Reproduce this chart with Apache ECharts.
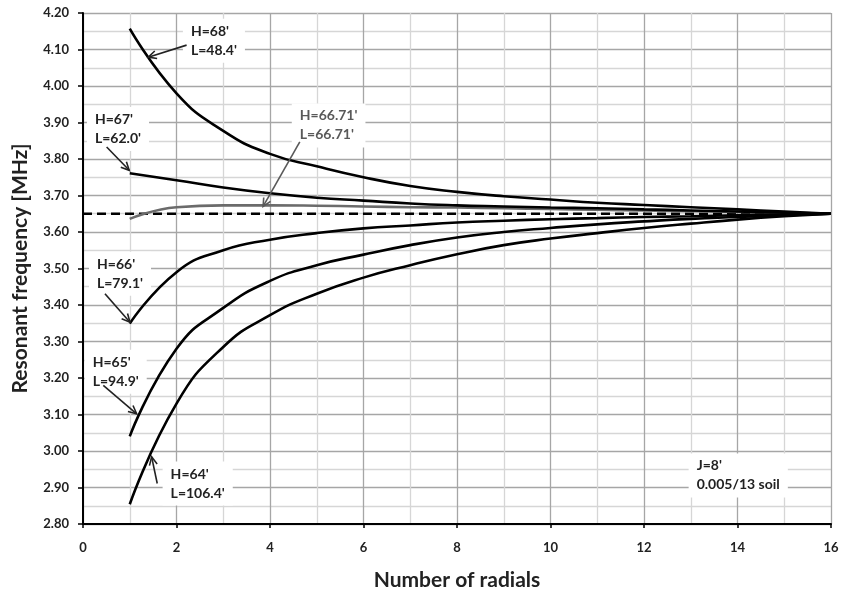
<!DOCTYPE html>
<html><head><meta charset="utf-8">
<script src="https://cdn.jsdelivr.net/npm/echarts@6/dist/echarts.min.js"></script>
<style>html,body{margin:0;padding:0;background:#fff}#c{width:846px;height:590px}</style>
</head><body><div id="c"></div>
<script>
const radials = [1,2,3,4,5,6,7,8,9,10,11,12,13,14,15,16];
const h68 = [4.157,3.980,3.877,3.814,3.780,3.750,3.726,3.710,3.698,3.689,3.680,3.674,3.668,3.662,3.656,3.650];
const h67 = [3.761,3.742,3.722,3.706,3.694,3.686,3.678,3.673,3.670,3.667,3.665,3.662,3.659,3.656,3.653,3.650];
const h6671 = [3.636,3.668,3.673,3.673,3.672,3.670,3.668,3.667,3.665,3.663,3.661,3.659,3.657,3.655,3.652,3.650];
const h66 = [3.349,3.490,3.550,3.579,3.597,3.610,3.618,3.626,3.631,3.635,3.638,3.641,3.643,3.646,3.648,3.650];
const h65 = [3.040,3.280,3.392,3.466,3.509,3.538,3.564,3.585,3.600,3.611,3.621,3.629,3.636,3.641,3.646,3.650];
const h64 = [2.854,3.130,3.285,3.372,3.431,3.475,3.509,3.539,3.564,3.582,3.597,3.611,3.623,3.634,3.643,3.650];
const targetX = [0,16];
const targetY = [3.65,3.65];
// annotations: text, text top-left (data), arrow tail (data), arrow tip (data), colour
const annText = ["H=68'\nL=48.4'","H=67'\nL=62.0'","H=66.71'\nL=66.71'","H=66'\nL=79.1'","H=65'\nL=94.9'","H=64'\nL=106.4'","J=8'\n0.005/13 soil"];
const annPos = [[2.308,4.176],[0.256,3.934],[4.637,3.944],[0.299,3.538],[0.207,3.269],[1.874,2.963],[13.126,2.985]];
const annTail = [[2.216,4.112],[0.506,3.833],[4.637,3.847],[0.47,3.431],[0.434,3.18],[1.588,2.911],null];
const annTip = [[1.395,4.079],[0.989,3.769],[3.853,3.67],[1.004,3.353],[1.147,3.102],[1.468,2.984],null];
const annColor = ['#222','#222','#595959','#222','#222','#222','#222'];

const FONT = 'Lato, "Open Sans", sans-serif';
const pair = (xs, ys) => xs.map((x,i)=>[x, ys[i]]);
const chart = echarts.init(document.getElementById('c'));
const lineSeries = (data, color) => ({type:'line', data: pair(radials, data), smooth:0.5,
  showSymbol:false, symbol:'none', lineStyle:{color:color, width:2.6}, z:3});
chart.setOption({
  animation:false,
  grid:{left:83, right:15, top:13, bottom:66, containLabel:false, outerBoundsMode:'none'},
  xAxis:{type:'value', min:0, max:16, interval:2,
    name:'Number of radials', nameLocation:'middle', nameGap:46,
    nameTextStyle:{fontFamily:FONT, fontWeight:'bold', fontSize:21, color:'#222'},
    axisLine:{lineStyle:{color:'#000', width:2}},
    axisTick:{show:true, length:4, lineStyle:{color:'#000', width:1.5}},
    axisLabel:{fontFamily:FONT, fontWeight:'bold', fontSize:13, color:'#222', margin:17},
    splitLine:{show:true, lineStyle:{color:'#a6a6a6', width:1.3}},
    minorTick:{show:false, splitNumber:2},
    minorSplitLine:{show:true, lineStyle:{color:'#d6d6d6', width:1.3}}
  },
  yAxis:{type:'value', min:2.8, max:4.2, interval:0.1,
    name:'Resonant frequency [MHz]', nameLocation:'middle', nameGap:52, nameRotate:90,
    nameTextStyle:{fontFamily:FONT, fontWeight:'bold', fontSize:21, color:'#222'},
    axisLine:{show:true, lineStyle:{color:'#000', width:2}},
    axisTick:{show:true, length:5, lineStyle:{color:'#000', width:1.5}},
    axisLabel:{fontFamily:FONT, fontWeight:'bold', fontSize:13, color:'#222', margin:14,
      formatter: v => v.toFixed(2)},
    splitLine:{show:true, lineStyle:{color:'#a6a6a6', width:1.3}},
    minorTick:{show:false, splitNumber:2},
    minorSplitLine:{show:true, lineStyle:{color:'#d6d6d6', width:1.3}}
  },
  series:[
    {type:'line', data: pair(targetX, targetY), showSymbol:false, symbol:'none',
      lineStyle:{color:'#000', width:2.6, type:[9,5]}, z:2},
    lineSeries(h6671, '#6b6b6b'),
    lineSeries(h68, '#000'),
    lineSeries(h67, '#000'),
    lineSeries(h66, '#000'),
    lineSeries(h65, '#000'),
    lineSeries(h64, '#000')
  ]
});

const g = [];
const PADX = 8, PADY = 3;
annText.forEach((t,i)=>{
  const p = chart.convertToPixel({gridIndex:0}, annPos[i]);
  g.push({type:'text', x:p[0]-PADX, y:p[1]-PADY, z:1,
    style:{text:t, fontFamily:FONT, fontWeight:'bold', fontSize:14, lineHeight:19, fill:annColor[i],
      textAlign:'left', textVerticalAlign:'top', backgroundColor:'#fff', padding:[PADY,PADX,PADY,PADX]}});
  if (annTail[i]) {
    const a = chart.convertToPixel({gridIndex:0}, annTail[i]);
    const b = chart.convertToPixel({gridIndex:0}, annTip[i]);
    const ang = Math.atan2(b[1]-a[1], b[0]-a[0]);
    const L = 9, w = 0.45;
    const h1 = [b[0]-L*Math.cos(ang-w), b[1]-L*Math.sin(ang-w)];
    const h2 = [b[0]-L*Math.cos(ang+w), b[1]-L*Math.sin(ang+w)];
    const st = {stroke:annColor[i], lineWidth:1.6, fill:null};
    g.push({type:'polyline', z:4, shape:{points:[a,b]}, style:st});
    g.push({type:'polyline', z:4, shape:{points:[h1,b,h2]}, style:st});
  }
});
chart.setOption({graphic:g});
</script></body></html>
